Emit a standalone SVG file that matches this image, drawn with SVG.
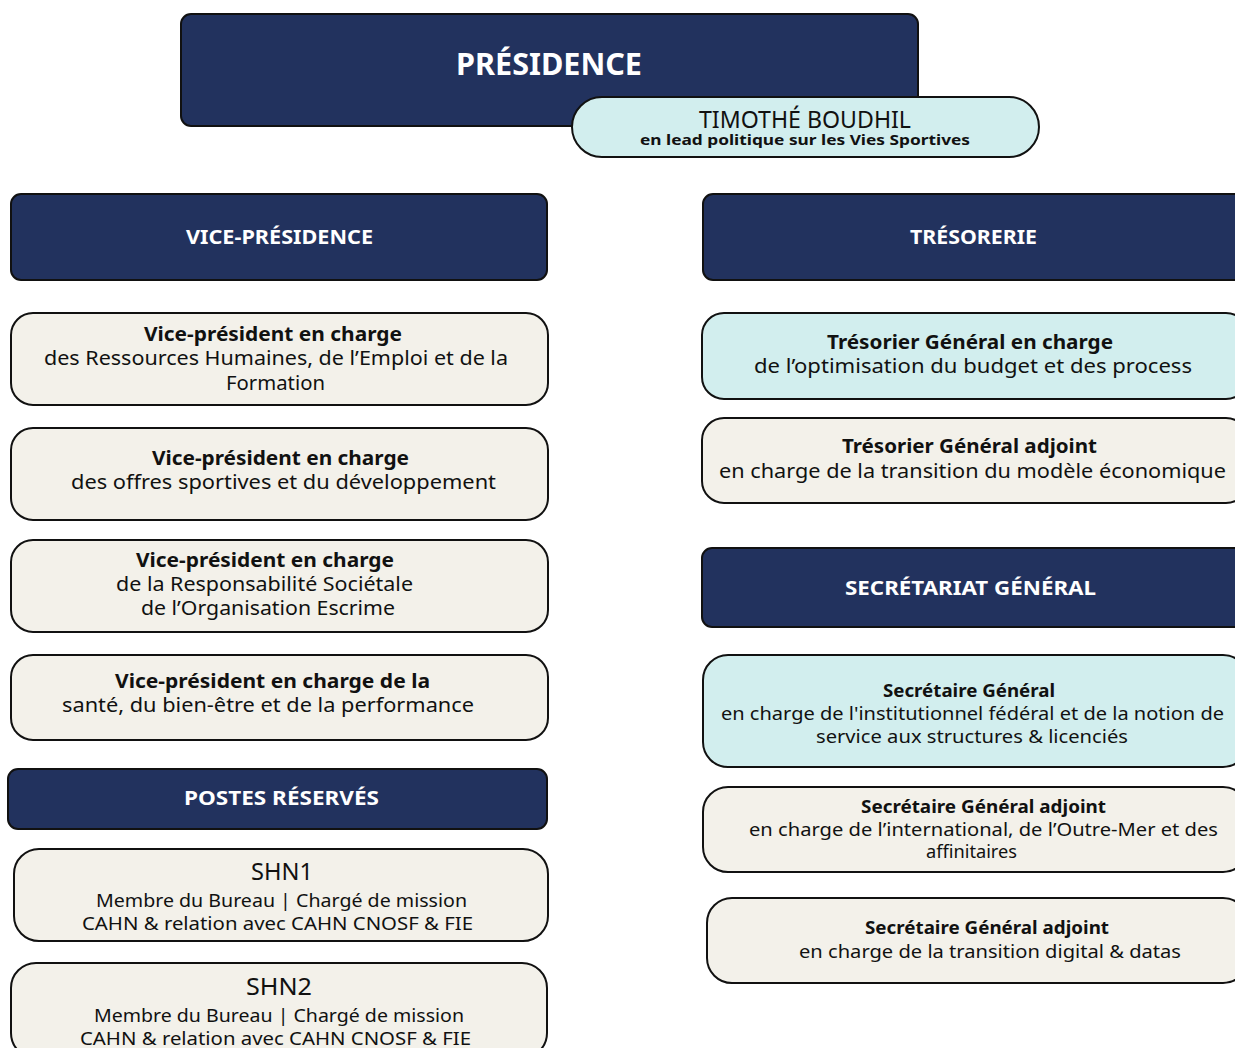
<svg xmlns="http://www.w3.org/2000/svg" width="1235" height="1048" viewBox="0 0 1235 1048">
<style>
.dark{fill:#22325e;stroke:#111;stroke-width:2}
.cream{fill:#f3f1ea;stroke:#111;stroke-width:2}
.cyan{fill:#d2eeee;stroke:#111;stroke-width:2}
text{font-family:"Noto Sans","Open Sans",sans-serif;text-anchor:middle;fill:#111}
.h{fill:#fff;font-weight:700;font-size:20px}
.b{font-weight:700;font-size:19px}
.r{font-size:19px}
.bs{font-weight:700;font-size:17px}
.rs{font-size:18px}
.big{font-size:24px}
</style>
<rect width="1235" height="1048" fill="#fff"/>
<g id="presidence">
<rect class="dark" x="181" y="14" width="737" height="112" rx="10"/>
<text x="549" y="75" style="fill:#fff;font-weight:700;font-size:30px" textLength="186" lengthAdjust="spacingAndGlyphs">PRÉSIDENCE</text>
</g>
<g id="timothe">
<rect class="cyan" x="572" y="97" width="467" height="60" rx="30"/>
<text x="805" y="128" style="font-size:23px" textLength="212" lengthAdjust="spacingAndGlyphs">TIMOTHÉ BOUDHIL</text>
<text x="805" y="145" style="font-size:15px;font-weight:700" textLength="330" lengthAdjust="spacingAndGlyphs">en lead politique sur les Vies Sportives</text>
</g>
<g id="vice-presidence">
<rect class="dark" x="11" y="194" width="536" height="86" rx="10"/>
<text class="h" x="279.5" y="244" textLength="187" lengthAdjust="spacingAndGlyphs">VICE-PRÉSIDENCE</text>
</g>
<g id="vp-rh">
<rect class="cream" x="11" y="313" width="537" height="92" rx="22"/>
<text class="b" x="273" y="341" textLength="258" lengthAdjust="spacingAndGlyphs">Vice-président en charge</text>
<text class="r" x="276" y="365" textLength="464" lengthAdjust="spacingAndGlyphs">des Ressources Humaines, de l’Emploi et de la</text>
<text class="r" x="275.5" y="390" textLength="99" lengthAdjust="spacingAndGlyphs">Formation</text>
</g>
<g id="vp-offres">
<rect class="cream" x="11" y="428" width="537" height="92" rx="22"/>
<text class="b" x="280.5" y="465" textLength="257" lengthAdjust="spacingAndGlyphs">Vice-président en charge</text>
<text class="r" x="283.5" y="489" textLength="425" lengthAdjust="spacingAndGlyphs">des offres sportives et du développement</text>
</g>
<g id="vp-rs">
<rect class="cream" x="11" y="540" width="537" height="92" rx="22"/>
<text class="b" x="265" y="567" textLength="258" lengthAdjust="spacingAndGlyphs">Vice-président en charge</text>
<text class="r" x="264.5" y="591" textLength="297" lengthAdjust="spacingAndGlyphs">de la Responsabilité Sociétale</text>
<text class="r" x="268" y="615" textLength="254" lengthAdjust="spacingAndGlyphs">de l’Organisation Escrime</text>
</g>
<g id="vp-sante">
<rect class="cream" x="11" y="655" width="537" height="85" rx="22"/>
<text class="b" x="272.5" y="688" textLength="315" lengthAdjust="spacingAndGlyphs">Vice-président en charge de la</text>
<text class="r" x="268" y="712" textLength="412" lengthAdjust="spacingAndGlyphs">santé, du bien-être et de la performance</text>
</g>
<g id="postes-reserves">
<rect class="dark" x="8" y="769" width="539" height="60" rx="10"/>
<text class="h" x="281.5" y="805" textLength="195" lengthAdjust="spacingAndGlyphs">POSTES RÉSERVÉS</text>
</g>
<g id="shn1">
<rect class="cream" x="14" y="849" width="534" height="92" rx="25"/>
<text class="big" x="282" y="880" textLength="62" lengthAdjust="spacingAndGlyphs">SHN1</text>
<text class="rs" x="281.5" y="907" textLength="371" lengthAdjust="spacingAndGlyphs">Membre du Bureau | Chargé de mission</text>
<text class="rs" x="277.5" y="930" textLength="391" lengthAdjust="spacingAndGlyphs">CAHN &amp; relation avec CAHN CNOSF &amp; FIE</text>
</g>
<g id="shn2">
<rect class="cream" x="11" y="963" width="536" height="95" rx="25"/>
<text class="big" x="279" y="995" textLength="66" lengthAdjust="spacingAndGlyphs">SHN2</text>
<text class="rs" x="279" y="1022" textLength="370" lengthAdjust="spacingAndGlyphs">Membre du Bureau | Chargé de mission</text>
<text class="rs" x="275.5" y="1045" textLength="391" lengthAdjust="spacingAndGlyphs">CAHN &amp; relation avec CAHN CNOSF &amp; FIE</text>
</g>
<g id="tresorerie">
<rect class="dark" x="703" y="194" width="545" height="86" rx="10"/>
<text class="h" x="973.5" y="244" textLength="127" lengthAdjust="spacingAndGlyphs">TRÉSORERIE</text>
</g>
<g id="tresorier-general">
<rect class="cyan" x="702" y="313" width="546" height="86" rx="22"/>
<text class="b" x="970" y="349" textLength="286" lengthAdjust="spacingAndGlyphs">Trésorier Général en charge</text>
<text class="r" x="973" y="373" textLength="438" lengthAdjust="spacingAndGlyphs">de l’optimisation du budget et des process</text>
</g>
<g id="tresorier-adjoint">
<rect class="cream" x="702" y="418" width="546" height="85" rx="22"/>
<text class="b" x="969.5" y="453" textLength="255" lengthAdjust="spacingAndGlyphs">Trésorier Général adjoint</text>
<text class="r" x="972.5" y="478" textLength="507" lengthAdjust="spacingAndGlyphs">en charge de la transition du modèle économique</text>
</g>
<g id="secretariat">
<rect class="dark" x="702" y="548" width="546" height="79" rx="10"/>
<text class="h" x="970.5" y="595" textLength="251" lengthAdjust="spacingAndGlyphs">SECRÉTARIAT GÉNÉRAL</text>
</g>
<g id="secretaire-general">
<rect class="cyan" x="703" y="655" width="545" height="112" rx="25"/>
<text class="bs" x="969" y="697" textLength="172" lengthAdjust="spacingAndGlyphs">Secrétaire Général</text>
<text class="rs" x="972.5" y="720" textLength="503" lengthAdjust="spacingAndGlyphs">en charge de l'institutionnel fédéral et de la notion de</text>
<text class="rs" x="972" y="743" textLength="312" lengthAdjust="spacingAndGlyphs">service aux structures &amp; licenciés</text>
</g>
<g id="sga-international">
<rect class="cream" x="703" y="787" width="545" height="85" rx="25"/>
<text class="bs" x="983.5" y="813" textLength="245" lengthAdjust="spacingAndGlyphs">Secrétaire Général adjoint</text>
<text class="rs" x="983.5" y="836" textLength="469" lengthAdjust="spacingAndGlyphs">en charge de l’international, de l’Outre-Mer et des</text>
<text class="rs" x="971.5" y="858" textLength="91" lengthAdjust="spacingAndGlyphs">affinitaires</text>
</g>
<g id="sga-digital">
<rect class="cream" x="707" y="898" width="541" height="85" rx="25"/>
<text class="bs" x="987" y="934" textLength="244" lengthAdjust="spacingAndGlyphs">Secrétaire Général adjoint</text>
<text class="rs" x="990" y="958" textLength="382" lengthAdjust="spacingAndGlyphs">en charge de la transition digital &amp; datas</text>
</g>
<g id="connectors"></g>
</svg>
